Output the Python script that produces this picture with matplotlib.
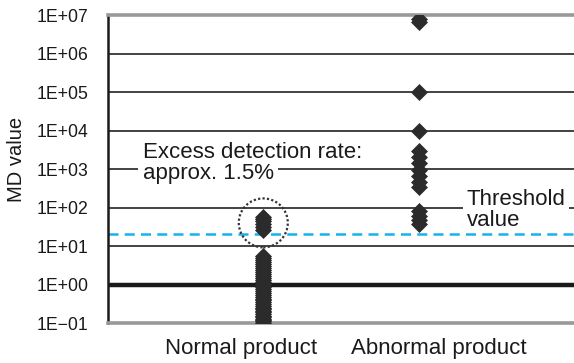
import math
import matplotlib
matplotlib.use("Agg")
import matplotlib.pyplot as plt
from matplotlib.patches import Circle
from matplotlib.transforms import ScaledTranslation
from matplotlib.ticker import FixedLocator, FuncFormatter, NullLocator

plt.rcParams['font.family'] = ['Liberation Sans', 'DejaVu Sans']

categories = ["Normal product", "Abnormal product"]

# MD values
normal_md = [0.10, 0.11, 0.12, 0.13, 0.14, 0.15, 0.17, 0.19, 0.21, 0.23,
             0.25, 0.28, 0.31, 0.35, 0.39, 0.43, 0.48, 0.53, 0.6, 0.67,
             0.75, 0.85, 0.95, 1.05, 1.2, 1.35, 1.5, 1.7, 1.9, 2.1,
             2.4, 2.7, 3.0, 3.4, 3.8, 4.3, 4.8, 5.4,
             26, 31, 38, 45, 52, 58]
abnormal_md = [8.0e6, 6.5e6, 1.0e5, 1.0e4, 2900, 2000, 1400, 950,
               650, 450, 340, 82, 62, 48, 38]
threshold = 21
circle_center = 40

fig = plt.figure(figsize=(5.74, 3.63), dpi=100)
ax = fig.add_axes([0.188, 0.110, 0.812, 0.8485])
ax.set_yscale('log')
ax.set_ylim(0.1, 1e7)
ax.set_xlim(0, 3)

decades = [10.0 ** k for k in range(-1, 8)]
for d in decades[1:-1]:
    if d == 1:
        ax.axhline(d, color='#1a1a1a', lw=3.2, zorder=1)
    else:
        ax.axhline(d, color='#222222', lw=1.2, zorder=1)
ax.axhline(threshold, color='#1ab0ee', lw=1.8, ls=(0, (4, 2.5)), zorder=1)

ax.plot([1] * len(normal_md), normal_md, ls='none', marker='D', ms=8,
        color='#2b2b2b', mec='#2b2b2b', mew=0.5, zorder=3)
ax.plot([2] * len(abnormal_md), abnormal_md, ls='none', marker='D', ms=8,
        color='#2b2b2b', mec='#2b2b2b', mew=0.5, zorder=3)

ring = Circle((0, 0), 0.245, fill=False, ec='#333333', lw=1.6, ls=(0, (1, 1)),
              transform=fig.dpi_scale_trans + ScaledTranslation(1, circle_center, ax.transData),
              zorder=4)
ax.add_patch(ring)

ax.spines['right'].set_visible(False)
ax.spines['left'].set_color('#1a1a1a')
ax.spines['left'].set_linewidth(1.8)
ax.spines['top'].set_color('#999999')
ax.spines['top'].set_linewidth(2.6)
ax.spines['bottom'].set_color('#999999')
ax.spines['bottom'].set_linewidth(2.6)

ax.yaxis.set_major_locator(FixedLocator(decades))
ax.yaxis.set_minor_locator(NullLocator())


def fmt(v, pos):
    e = int(round(math.log10(v)))
    return "1E+%02d" % e if e >= 0 else "1E\u2212%02d" % -e


ax.yaxis.set_major_formatter(FuncFormatter(fmt))
ax.tick_params(axis='y', length=0, pad=14, labelsize=12.7, colors='#1a1a1a')
ax.set_xticks([0.86, 2.13])
ax.set_xticklabels(categories)
ax.tick_params(axis='x', length=0, pad=11, labelsize=16, colors='#1a1a1a')

ax.set_ylabel("MD value", fontsize=14.5, color='#1a1a1a')
ax.yaxis.set_label_coords(-0.175, 0.53)

box = dict(boxstyle='square,pad=0.2', fc='white', ec='none')
ax.text(0.225, 1990, "Excess detection rate:", fontsize=16, color='#1a1a1a',
        ha='left', va='baseline', zorder=3)
ax.text(0.225, 565, "approx. 1.5%", fontsize=16, color='#1a1a1a',
        ha='left', va='baseline', bbox=box, zorder=2)
box2 = dict(boxstyle='square,pad=0.15', fc='white', ec='none')
ax.text(2.31, 120, "Threshold", fontsize=16, color='#1a1a1a',
        ha='left', va='baseline', bbox=box2, zorder=2)
ax.text(2.31, 34, "value", fontsize=16, color='#1a1a1a',
        ha='left', va='baseline', zorder=3)

fig.savefig("out.png", dpi=100)
